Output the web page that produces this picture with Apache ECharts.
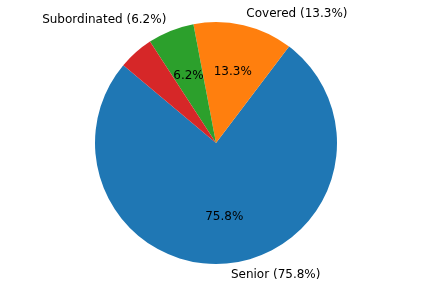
<!DOCTYPE html>
<html><head><meta charset="utf-8">
<script src="https://cdn.jsdelivr.net/npm/echarts@6/dist/echarts.min.js"></script>
<style>html,body{margin:0;padding:0;background:#fff}#c{width:432px;height:288px}</style>
</head><body><div id="c"></div>
<script>
const categories = ["Senior", "Covered", "Subordinated", "Other"];
const values = [75.8, 13.3, 6.2, 4.7];
const colors = ["#1f77b4", "#ff7f0e", "#2ca02c", "#d62728"];
const showLabel = [true, true, true, false];

const R = 121;
const font = "DejaVu Sans";
const fs = 12;

const outerData = categories.map((c, i) => ({
  name: c, value: values[i],
  itemStyle: { color: colors[i] },
  label: { show: showLabel[i] }
}));
const innerData = categories.map((c, i) => ({
  name: c, value: values[i],
  label: { show: showLabel[i] }
}));

const chart = echarts.init(document.getElementById('c'), null, { renderer: 'canvas' });
chart.setOption({
  animation: false,
  backgroundColor: '#fff',
  series: [
    {
      type: 'pie',
      center: [216, 143],
      radius: [0, R],
      startAngle: 140,
      clockwise: false,
      avoidLabelOverlap: false,
      silent: true,
      itemStyle: { borderWidth: 0 },
      label: {
        position: 'outside',
        distanceToLabelLine: 0,
        color: '#000',
        fontFamily: font,
        fontSize: fs,
        formatter: p => p.name + ' (' + p.value.toFixed(1) + '%)'
      },
      labelLine: { show: false, length: R * 0.1, length2: 0 },
      data: outerData
    },
    {
      type: 'pie',
      center: [216, 143],
      radius: [0, R * 1.2 - 4],
      startAngle: 140,
      clockwise: false,
      avoidLabelOverlap: false,
      silent: true,
      itemStyle: { color: 'rgba(0,0,0,0)', borderWidth: 0 },
      label: {
        position: 'inside',
        offset: [0, 1],
        color: '#000',
        fontFamily: font,
        fontSize: fs,
        formatter: p => p.value.toFixed(1) + '%'
      },
      labelLine: { show: false },
      data: innerData
    }
  ]
});
</script>
</body></html>
